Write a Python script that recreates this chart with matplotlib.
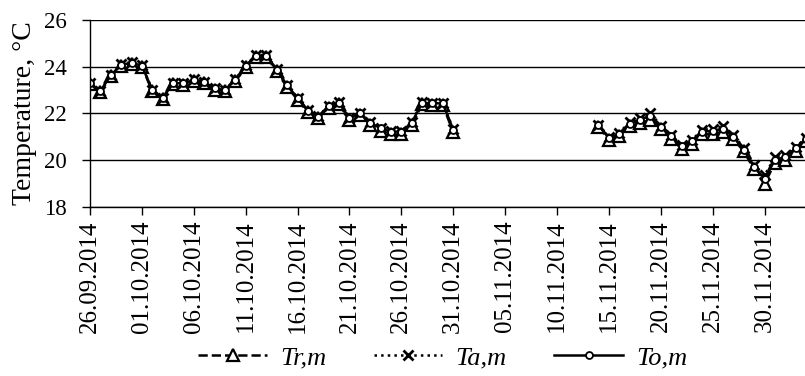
import matplotlib.pyplot as plt
import numpy as np
import pandas as pd

plt.rcParams['font.family'] = ['Liberation Serif', 'DejaVu Serif']

# daily values, 26.09.2014 .. 04.12.2014 (NaN = no data)
dates = pd.date_range('2014-09-26', '2014-12-04', freq='D')
nan = np.nan
To = [23.29, 22.95, 23.64, 24.07, 24.17, 24.04, 23.0, 22.65, 23.29, 23.29,
      23.43, 23.34, 23.07, 23.0, 23.43, 24.04, 24.47, 24.47, 23.86, 23.2,
      22.64, 22.11, 21.86, 22.31, 22.45, 21.79, 22.0, 21.6, 21.36, 21.22,
      21.22, 21.6, 22.45, 22.43, 22.43, 21.3,
      nan, nan, nan, nan, nan, nan, nan, nan, nan, nan, nan, nan, nan,
      21.49, 20.95, 21.13, 21.56, 21.72, 21.9, 21.42, 21.02, 20.6, 20.8,
      21.22, 21.25, 21.35, 21.0, 20.45, 19.7, 19.2, 20.0, 20.14, 20.5,
      20.9]
Ta = [23.3, 22.97, 23.66, 24.1, 24.2, 24.06, 23.02, 22.67, 23.31, 23.3,
      23.45, 23.36, 23.09, 23.02, 23.45, 24.06, 24.5, 24.5, 23.88, 23.22,
      22.66, 22.13, 21.88, 22.33, 22.48, 21.82, 22.03, 21.63, 21.38, 21.25,
      21.25, 21.63, 22.48, 22.45, 22.45, 21.33,
      nan, nan, nan, nan, nan, nan, nan, nan, nan, nan, nan, nan, nan,
      21.52, 20.98, 21.17, 21.62, 21.8, 22.02, 21.48, 21.08, 20.65, 20.86,
      21.3, 21.33, 21.45, 21.08, 20.52, 19.8, 19.35, 20.12, 20.22, 20.56,
      20.95]
Tr = [23.25, 22.9, 23.6, 24.02, 24.12, 24.0, 22.95, 22.6, 23.24, 23.22,
      23.38, 23.3, 23.02, 22.95, 23.38, 23.98, 24.42, 24.42, 23.8, 23.14,
      22.58, 22.05, 21.8, 22.24, 22.38, 21.72, 21.92, 21.5, 21.26, 21.1,
      21.1, 21.5, 22.38, 22.35, 22.35, 21.2,
      nan, nan, nan, nan, nan, nan, nan, nan, nan, nan, nan, nan, nan,
      21.42, 20.86, 21.05, 21.45, 21.58, 21.72, 21.35, 20.92, 20.48, 20.7,
      21.1, 21.12, 21.2, 20.9, 20.38, 19.6, 18.98, 19.88, 20.02, 20.4,
      20.8]
tick_dates = pd.date_range('2014-09-26', periods=14, freq='5D')
tick_labels = [d.strftime('%d.%m.%Y') for d in tick_dates]

fig = plt.figure(figsize=(8.05, 3.76), dpi=100)
ax = fig.add_axes([0.1118, 0.45, 0.8882, 0.497])

ax.plot(dates, Tr, color='black', ls='--', lw=1.8, marker='^', ms=8,
        mfc='white', mec='black', mew=1.6, label='Tr,m')
ax.plot(dates, Ta, color='black', ls=':', lw=1.8, marker='x', ms=7,
        mec='black', mew=2, label='Ta,m')
ax.plot(dates, To, color='black', ls='-', lw=1.8, marker='o', ms=5,
        mfc='white', mec='black', mew=1.3, label='To,m')

ax.set_ylim(18, 26)
ax.set_yticks([18, 20, 22, 24, 26])
ax.set_xlim(dates[0], dates[0] + pd.Timedelta(days=68.9))
ax.set_xticks(tick_dates)
ax.set_xticklabels(tick_labels, rotation=90, fontsize=18)
ax.tick_params(axis='y', labelsize=16.5, direction='out', length=6, width=1,
               pad=11)
ax.tick_params(axis='x', direction='out', length=6, width=1, pad=4)
ax.set_ylabel('Temperature, °C', fontsize=20, labelpad=5)

ax.grid(axis='y', color='black', lw=1)
ax.set_axisbelow(True)
for s in ['top', 'right']:
    ax.spines[s].set_visible(False)
for s in ['left', 'bottom']:
    ax.spines[s].set_color('black')
    ax.spines[s].set_linewidth(1)

fig.legend(loc='lower center', bbox_to_anchor=(0.55, -0.045), ncol=3,
           frameon=False, handlelength=2.6, handletextpad=0.5,
           columnspacing=1.8, prop={'style': 'italic', 'size': 19})

plt.savefig('out.png', dpi=100)
